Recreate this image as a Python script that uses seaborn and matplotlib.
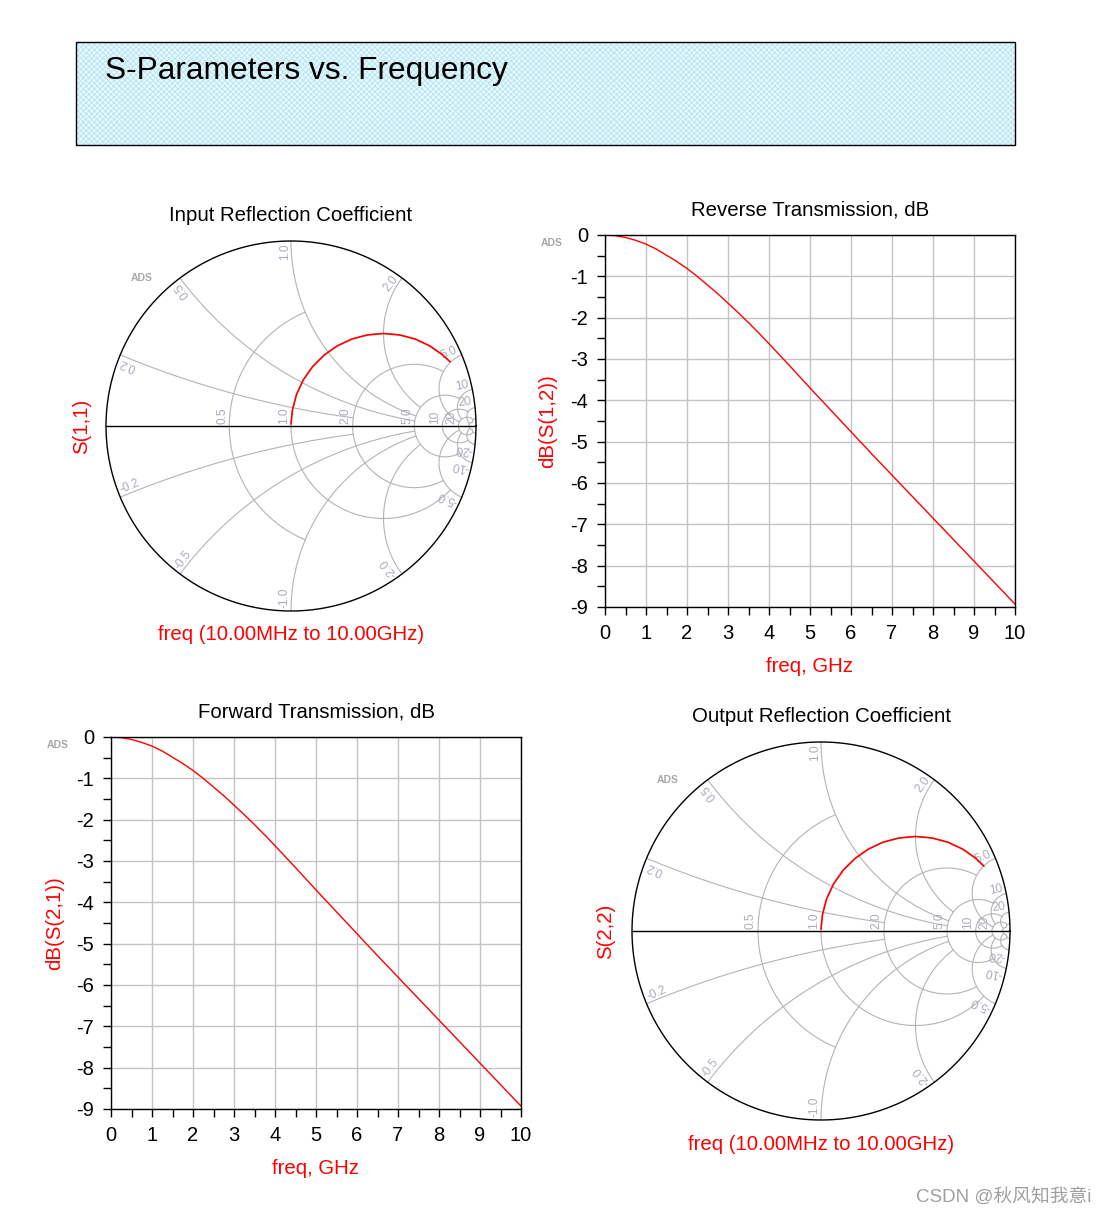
import numpy as np
import pandas as pd
import matplotlib
matplotlib.use("Agg")
import matplotlib.pyplot as plt
from matplotlib.patches import Rectangle
import seaborn as sns

# ---------------- data ----------------
freq_ghz = [0.0, 0.25, 0.5, 0.75, 1.0, 1.25, 1.5, 1.75, 2.0, 2.25, 2.5, 2.75, 3.0,
            3.25, 3.5, 3.75, 4.0, 4.5, 5.0, 5.5, 6.0, 6.5, 7.0, 7.5, 8.0, 8.5,
            9.0, 9.5, 10.0]
s12_db = [0.0, -0.015, -0.06, -0.13, -0.22, -0.34, -0.49, -0.64, -0.81, -1.00, -1.21,
          -1.42, -1.65, -1.88, -2.12, -2.37, -2.63, -3.16, -3.70, -4.23, -4.76, -5.29,
          -5.81, -6.33, -6.85, -7.37, -7.89, -8.41, -8.93]
s21_db = [0.0, -0.015, -0.06, -0.13, -0.22, -0.34, -0.49, -0.64, -0.81, -1.00, -1.21,
          -1.42, -1.65, -1.88, -2.12, -2.37, -2.63, -3.16, -3.70, -4.23, -4.76, -5.29,
          -5.81, -6.33, -6.85, -7.37, -7.89, -8.41, -8.93]

s11_re = [0.000, 0.008, 0.030, 0.067, 0.117, 0.179, 0.250, 0.329, 0.413, 0.500,
          0.587, 0.671, 0.750, 0.821, 0.860]
s11_im = [0.010, 0.087, 0.171, 0.250, 0.321, 0.383, 0.433, 0.470, 0.492, 0.500,
          0.492, 0.470, 0.433, 0.383, 0.347]
s22_re = [0.000, 0.008, 0.030, 0.067, 0.117, 0.179, 0.250, 0.329, 0.413, 0.500,
          0.587, 0.671, 0.750, 0.821, 0.862]
s22_im = [0.010, 0.087, 0.171, 0.250, 0.321, 0.383, 0.433, 0.470, 0.492, 0.500,
          0.492, 0.470, 0.433, 0.383, 0.343]

x_ticks = [0, 1, 2, 3, 4, 5, 6, 7, 8, 9, 10]
y_ticks = [0, -1, -2, -3, -4, -5, -6, -7, -8, -9]

smith_r_labels = ["0.5", "1.0", "2.0", "5.0", "10", "20"]
smith_x_labels = ["0.2", "0.5", "1.0", "2.0", "5.0", "10", "20"]

# ---------------- styling ----------------
sns.set_theme(style="white")
plt.rcParams["font.family"] = ["Liberation Sans", "Noto Sans CJK SC", "DejaVu Sans"]
plt.rcParams["hatch.linewidth"] = 0.6

W, H = 1105, 1216
fig = plt.figure(figsize=(W / 100, H / 100), dpi=100)
fig.patch.set_facecolor("white")


def fx(x):
    return x / W


def fy(y):
    return 1 - y / H


def ftext(x, y, s, **kw):
    kw.setdefault("ha", "center")
    kw.setdefault("va", "center")
    fig.text(fx(x), fy(y), s, **kw)


RED = "#ff0000"
GRID = "#b4b4b4"
LAB = "#a8acba"
TXT = "#000000"

# ---------------- title box ----------------
fig.patches.append(Rectangle((fx(76), fy(145)), fx(1015) - fx(76), fy(42) - fy(145),
                             transform=fig.transFigure, facecolor="#e8f8fc",
                             edgecolor="#b2e5f3", hatch="xxxxxx", linewidth=0, zorder=0))
fig.patches.append(Rectangle((fx(76), fy(145)), fx(1015) - fx(76), fy(42) - fy(145),
                             transform=fig.transFigure, facecolor="none",
                             edgecolor="black", linewidth=1, zorder=1))
ftext(105, 71, "S-Parameters vs. Frequency", ha="left", fontsize=22.8, color=TXT)


# ---------------- rectangular plots ----------------
def rect_plot(l, t, r, b, values, title, ylabel, title_y, ylab_x):
    ax = fig.add_axes([fx(l), fy(b), fx(r) - fx(l), fy(t) - fy(b)])
    df = pd.DataFrame({"freq": freq_ghz, "db": values})
    sns.lineplot(data=df, x="freq", y="db", ax=ax, color=RED, linewidth=1)
    ax.set_xlim(0, 10)
    ax.set_ylim(-9, 0)
    ax.set_xticks(x_ticks)
    ax.set_xticklabels([str(v) for v in x_ticks])
    ax.set_yticks(y_ticks)
    ax.set_yticklabels([str(v) for v in y_ticks])
    ax.set_xticks(np.arange(0.5, 10, 1), minor=True)
    ax.set_yticks(np.arange(-8.5, 0, 1), minor=True)
    ax.grid(True, which="major", color="#c4c4c4", linewidth=1)
    ax.grid(False, which="minor")
    ax.tick_params(which="both", direction="out", length=6, width=1, color="black",
                   bottom=True, left=True, top=False, right=False)
    ax.tick_params(axis="x", which="major", labelsize=14.5, pad=6, labelcolor=TXT)
    ax.tick_params(axis="y", which="major", labelsize=14.5, pad=6, labelcolor=TXT)
    for sp in ax.spines.values():
        sp.set_color("black")
        sp.set_linewidth(1)
        sp.set_visible(True)
    ax.set_xlabel("")
    ax.set_ylabel("")
    cx = (l + r) / 2
    ftext(cx, title_y, title, fontsize=14.7, color=TXT)
    ftext(ylab_x, (t + b) / 2, ylabel, rotation=90, color=RED, fontsize=14.7)
    ftext(cx, b + 60, "freq, GHz", color=RED, fontsize=14.7)
    ftext(l - 53, t + 8, "ADS", color="#a8a8a8", fontsize=7.5, fontweight="bold")
    return ax


rect_plot(605, 235, 1015, 607, s12_db, "Reverse Transmission, dB", "dB(S(1,2))", 210, 548)
rect_plot(111, 737, 521, 1109, s21_db, "Forward Transmission, dB", "dB(S(2,1))", 712, 55)

# ---------------- Smith charts ----------------
r_specs = [(0.5, 1.0), (1.0, 5.0), (2.0, 5.0), (5.0, 10.0), (10.0, 20.0), (20.0, 50.0), (50.0, 50.0)]
x_specs = [(0.2, 2.0), (0.5, 5.0), (1.0, 5.0), (2.0, 5.0), (5.0, 20.0), (10.0, 20.0), (20.0, 50.0), (50.0, 50.0)]
r_label_vals = [0.5, 1.0, 2.0, 5.0, 10.0, 20.0]
x_label_vals = [0.2, 0.5, 1.0, 2.0, 5.0, 10.0, 20.0]


def gam(z):
    return (z - 1) / (z + 1)


def smith_plot(cx, cy, R, re, im, title, ylabel, title_y, ylab_x, xlab_y, ads_xy):
    m = 1.06
    ax = fig.add_axes([fx(cx - R * m), fy(cy + R * m), 2 * R * m / W, 2 * R * m / H])
    ax.set_xlim(-m, m)
    ax.set_ylim(-m, m)
    ax.axis("off")
    for r, xm in r_specs:
        xx = np.linspace(-xm, xm, 4000)
        g = gam(r + 1j * xx)
        ax.plot(g.real, g.imag, color=GRID, linewidth=0.8, zorder=1)
    for xv, rm in x_specs:
        rr = np.linspace(0, rm, 4000)
        for s in (1, -1):
            g = gam(rr + 1j * s * xv)
            ax.plot(g.real, g.imag, color=GRID, linewidth=0.8, zorder=1)
    t = np.linspace(0, 2 * np.pi, 1000)
    ax.plot(np.cos(t), np.sin(t), color="black", linewidth=1, zorder=3)
    ax.plot([-1, 1], [0, 0], color="black", linewidth=1, zorder=3)
    for rv, lab in zip(r_label_vals, smith_r_labels):
        g = (rv - 1) / (rv + 1)
        ax.text(g - 0.006, 0.012, lab, rotation=90, rotation_mode="anchor",
                ha="left", va="bottom", fontsize=8.6, color=LAB, zorder=4)
    for xv, lab in zip(x_label_vals, smith_x_labels):
        for s in (1, -1):
            g = gam(1j * s * xv)
            phi = np.degrees(np.angle(g))
            p = 0.985 * g
            if s > 0:
                ax.text(p.real, p.imag, lab, rotation=phi, rotation_mode="anchor",
                        ha="right", va="bottom", fontsize=8.6, color=LAB, zorder=4)
            else:
                ax.text(p.real, p.imag, "-" + lab, rotation=phi + 180, rotation_mode="anchor",
                        ha="left", va="bottom", fontsize=8.6, color=LAB, zorder=4)
    sns.lineplot(x=re, y=im, sort=False, ax=ax, color=RED, linewidth=1.2, zorder=5)
    ax.set_xlim(-m, m)
    ax.set_ylim(-m, m)
    ftext(cx, title_y, title, fontsize=14.7, color=TXT)
    ftext(ylab_x, cy, ylabel, rotation=90, color=RED, fontsize=14.7)
    ftext(cx, xlab_y, "freq (10.00MHz to 10.00GHz)", color=RED, fontsize=14.7)
    ftext(ads_xy[0], ads_xy[1], "ADS", color="#a8a8a8", fontsize=7.5, fontweight="bold")
    return ax


smith_plot(291, 426, 185, s11_re, s11_im, "Input Reflection Coefficient", "S(1,1)",
           216, 82, 635, (142, 278))
smith_plot(821, 931, 189, s22_re, s22_im, "Output Reflection Coefficient", "S(2,2)",
           717, 606, 1145, (668, 780))

# ---------------- watermark ----------------
ftext(1091, 1197, "CSDN @秋风知我意i", ha="right", color="#a0a0a0", fontsize=13.5)

fig.savefig("out.png", dpi=100, facecolor="white")
